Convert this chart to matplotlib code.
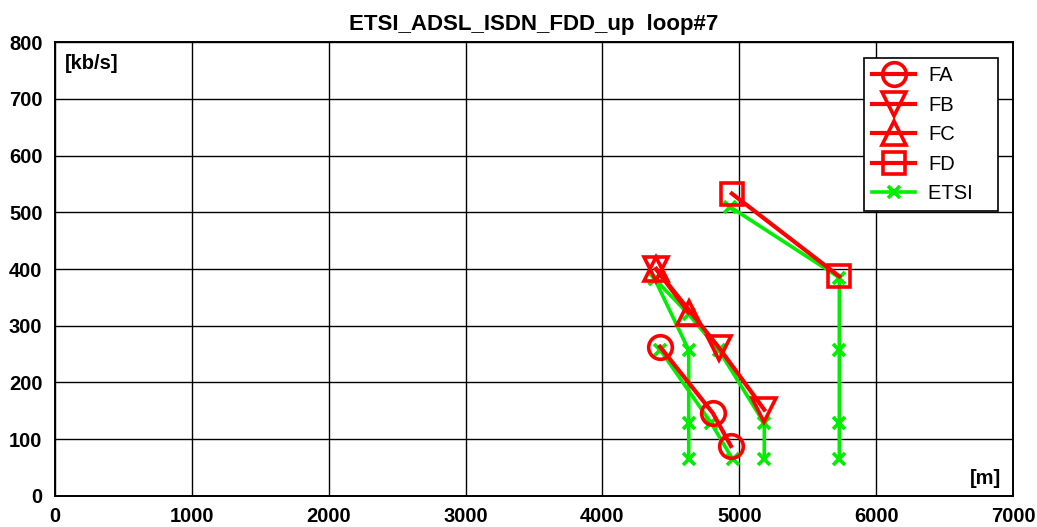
import matplotlib
matplotlib.use("Agg")
import matplotlib.pyplot as plt
import numpy as np

plt.rcParams['font.family'] = ['Liberation Sans', 'DejaVu Sans']

# Measured bit rates per noise model (loop length in m, rate in kb/s)
fa_x = [4420, 4806, 4938]
fa_y = [263, 146, 88]
fb_x = [4392, 4852, 5182]
fb_y = [400, 261, 152]
fc_x = [4392, 4630]
fc_y = [400, 323]
fd_x = [4945, 5730]
fd_y = [533, 387]

# ETSI reference requirements (one polyline per noise model)
etsi_a_x = [4420, 4795, 4950]
etsi_a_y = [258, 128, 65]
etsi_b_x = [4380, 4630, 4850, 5182, 5182]
etsi_b_y = [383, 320, 257, 128, 65]
etsi_c_x = [4380, 4630, 4630, 4630]
etsi_c_y = [383, 257, 128, 65]
etsi_d_x = [4930, 5730, 5730, 5730, 5730]
etsi_d_y = [510, 385, 257, 128, 65]

x_ticks = [0, 1000, 2000, 3000, 4000, 5000, 6000, 7000]
y_ticks = [0, 100, 200, 300, 400, 500, 600, 700, 800]

fig = plt.figure(figsize=(10.37, 5.27), dpi=100)
ax = fig.add_axes([0.053, 0.059, 0.924, 0.861])

red = '#ff0000'
green = '#00ee00'
rkw = dict(color=red, lw=3, markerfacecolor='none',
           markeredgewidth=2.6, zorder=4)
gkw = dict(color=green, lw=2.6, marker='x', markersize=9,
           markeredgewidth=2.6, zorder=3)

ax.plot(etsi_a_x, etsi_a_y, **gkw)
ax.plot(etsi_b_x, etsi_b_y, **gkw)
ax.plot(etsi_c_x, etsi_c_y, **gkw)
ax.plot(etsi_d_x, etsi_d_y, **gkw)

h_a, = ax.plot(fa_x, fa_y, marker='o', markersize=17, label='FA', **rkw)
h_b, = ax.plot(fb_x, fb_y, marker='v', markersize=17, label='FB', **rkw)
h_c, = ax.plot(fc_x, fc_y, marker='^', markersize=17, label='FC', **rkw)
h_d, = ax.plot(fd_x, fd_y, marker='s', markersize=15.5, label='FD', **rkw)
h_e, = ax.plot([], [], label='ETSI   ', **gkw)

fs = 14.5
ax.set_xlim(0, 7000)
ax.set_ylim(0, 800)
ax.set_xticks(x_ticks)
ax.set_yticks(y_ticks)
ax.set_xticklabels([str(v) for v in x_ticks], fontweight='bold', fontsize=fs)
ax.set_yticklabels([str(v) for v in y_ticks], fontweight='bold', fontsize=fs)
ax.tick_params(axis='y', length=0, pad=9)
ax.tick_params(axis='x', length=0, pad=8)
ax.grid(True, color='black', lw=1, ls='-')
ax.set_axisbelow(True)
for s in ax.spines.values():
    s.set_linewidth(1.4)
    s.set_color('black')

ax.set_title('ETSI_ADSL_ISDN_FDD_up  loop#7', fontweight='bold', fontsize=16, pad=9)
ax.text(0.010, 0.975, '[kb/s]', transform=ax.transAxes, fontweight='bold',
        fontsize=fs, va='top', ha='left')
ax.text(0.987, 0.018, '[m]', transform=ax.transAxes, fontweight='bold',
        fontsize=fs, va='bottom', ha='right')

leg = ax.legend(handles=[h_a, h_b, h_c, h_d, h_e], loc='upper right',
                bbox_to_anchor=(0.9843, 0.9648), fontsize=14.5, frameon=True,
                fancybox=False, edgecolor='black', framealpha=1,
                handlelength=2.15, borderpad=0.4, labelspacing=0.52,
                handletextpad=0.65, borderaxespad=0)
leg.get_frame().set_linewidth(1.2)

fig.savefig('out.png', dpi=100)
